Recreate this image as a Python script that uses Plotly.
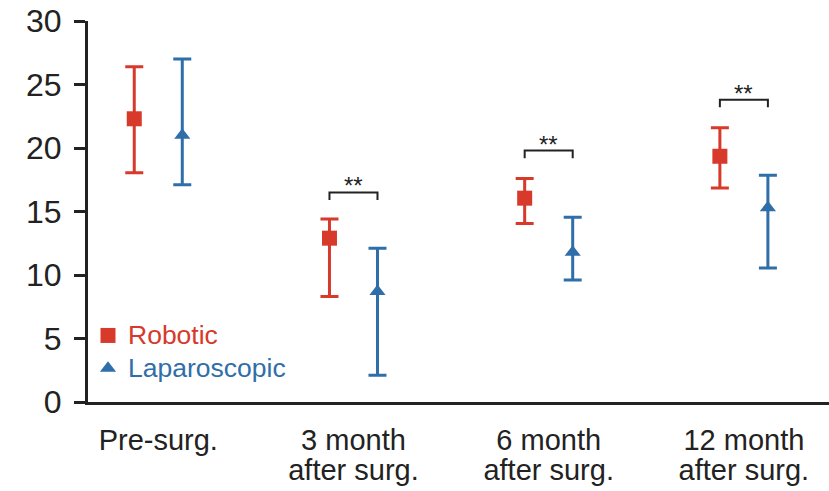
import plotly.graph_objects as go

categories = ["Pre-surg.", "3 month<br>after surg.", "6 month<br>after surg.", "12 month<br>after surg."]
robotic_mean = [22.3, 12.9, 16.05, 19.35]
robotic_upper = [26.4, 14.4, 17.6, 21.6]
robotic_lower = [18.05, 8.3, 14.05, 16.85]
lap_mean = [21.0, 8.7, 11.8, 15.3]
lap_upper = [27.0, 12.1, 14.55, 17.85]
lap_lower = [17.1, 2.1, 9.6, 10.55]
sig_positions = [1, 2, 3]
sig_bracket_y = [16.5, 19.8, 23.8]
sig_labels = ["**", "**", "**"]
y_ticks = [0, 5, 10, 15, 20, 25, 30]

RED = "#d7392b"
BLUE = "#2f6ea8"
FONT = "Liberation Sans, Arial, sans-serif"
off = 0.123
idx = list(range(len(categories)))

fig = go.Figure()

fig.add_trace(go.Scatter(
    x=[i - off for i in idx], y=robotic_mean, mode="markers",
    name='<span style="color:%s;font-size:26.5px">Robotic</span>' % RED,
    marker=dict(symbol="square", size=15, color=RED),
    error_y=dict(type="data", symmetric=False,
                 array=[u - m for u, m in zip(robotic_upper, robotic_mean)],
                 arrayminus=[m - l for m, l in zip(robotic_mean, robotic_lower)],
                 color=RED, thickness=3, width=9),
))
fig.add_trace(go.Scatter(
    x=[i + off for i in idx], y=lap_mean, mode="markers",
    name='<span style="color:%s;font-size:26.5px">Laparoscopic</span>' % BLUE,
    marker=dict(symbol="triangle-up", size=14, color=BLUE),
    error_y=dict(type="data", symmetric=False,
                 array=[u - m for u, m in zip(lap_upper, lap_mean)],
                 arrayminus=[m - l for m, l in zip(lap_mean, lap_lower)],
                 color=BLUE, thickness=3, width=9),
))

for p, b, lab in zip(sig_positions, sig_bracket_y, sig_labels):
    fig.add_trace(go.Scatter(
        x=[p - off, p - off, p + off, p + off], y=[b - 0.6, b, b, b - 0.6],
        mode="lines", line=dict(color="#222222", width=2),
        showlegend=False, hoverinfo="skip"))
    fig.add_annotation(x=p, y=b, text=lab, showarrow=False, yanchor="bottom",
                       yshift=-9, font=dict(size=24, color="#222222", family=FONT))

tick_text = ['<span style="font-size:29px">%s</span>' % c for c in categories]

fig.update_layout(
    width=829, height=491,
    margin=dict(l=88, r=0, t=21, b=89),
    plot_bgcolor="white", paper_bgcolor="white",
    font=dict(family=FONT, color="#222222"),
    legend=dict(x=0.0, y=0.231, xanchor="left", yanchor="top",
                font=dict(size=23, family=FONT), bgcolor="rgba(0,0,0,0)",
                tracegroupgap=0),
    xaxis=dict(range=[-0.360, 3.436], tickvals=idx, ticktext=tick_text,
               showline=True, linewidth=3, linecolor="#222222", ticks="",
               showgrid=False, zeroline=False, automargin=False,
               ticklabelstandoff=17,
               tickfont=dict(size=23, family=FONT, color="#222222")),
    yaxis=dict(range=[0, 30], tickvals=y_ticks, showline=True, linewidth=3,
               linecolor="#222222", ticks="outside", ticklen=11, tickwidth=3,
               tickcolor="#222222", showgrid=False, zeroline=False,
               automargin=False, ticklabelstandoff=6,
               tickfont=dict(size=32, family=FONT, color="#222222")),
)

fig.write_html("out.html", config={"displayModeBar": False},
               post_script="document.body.style.margin='0px';document.body.style.overflow='hidden';")
